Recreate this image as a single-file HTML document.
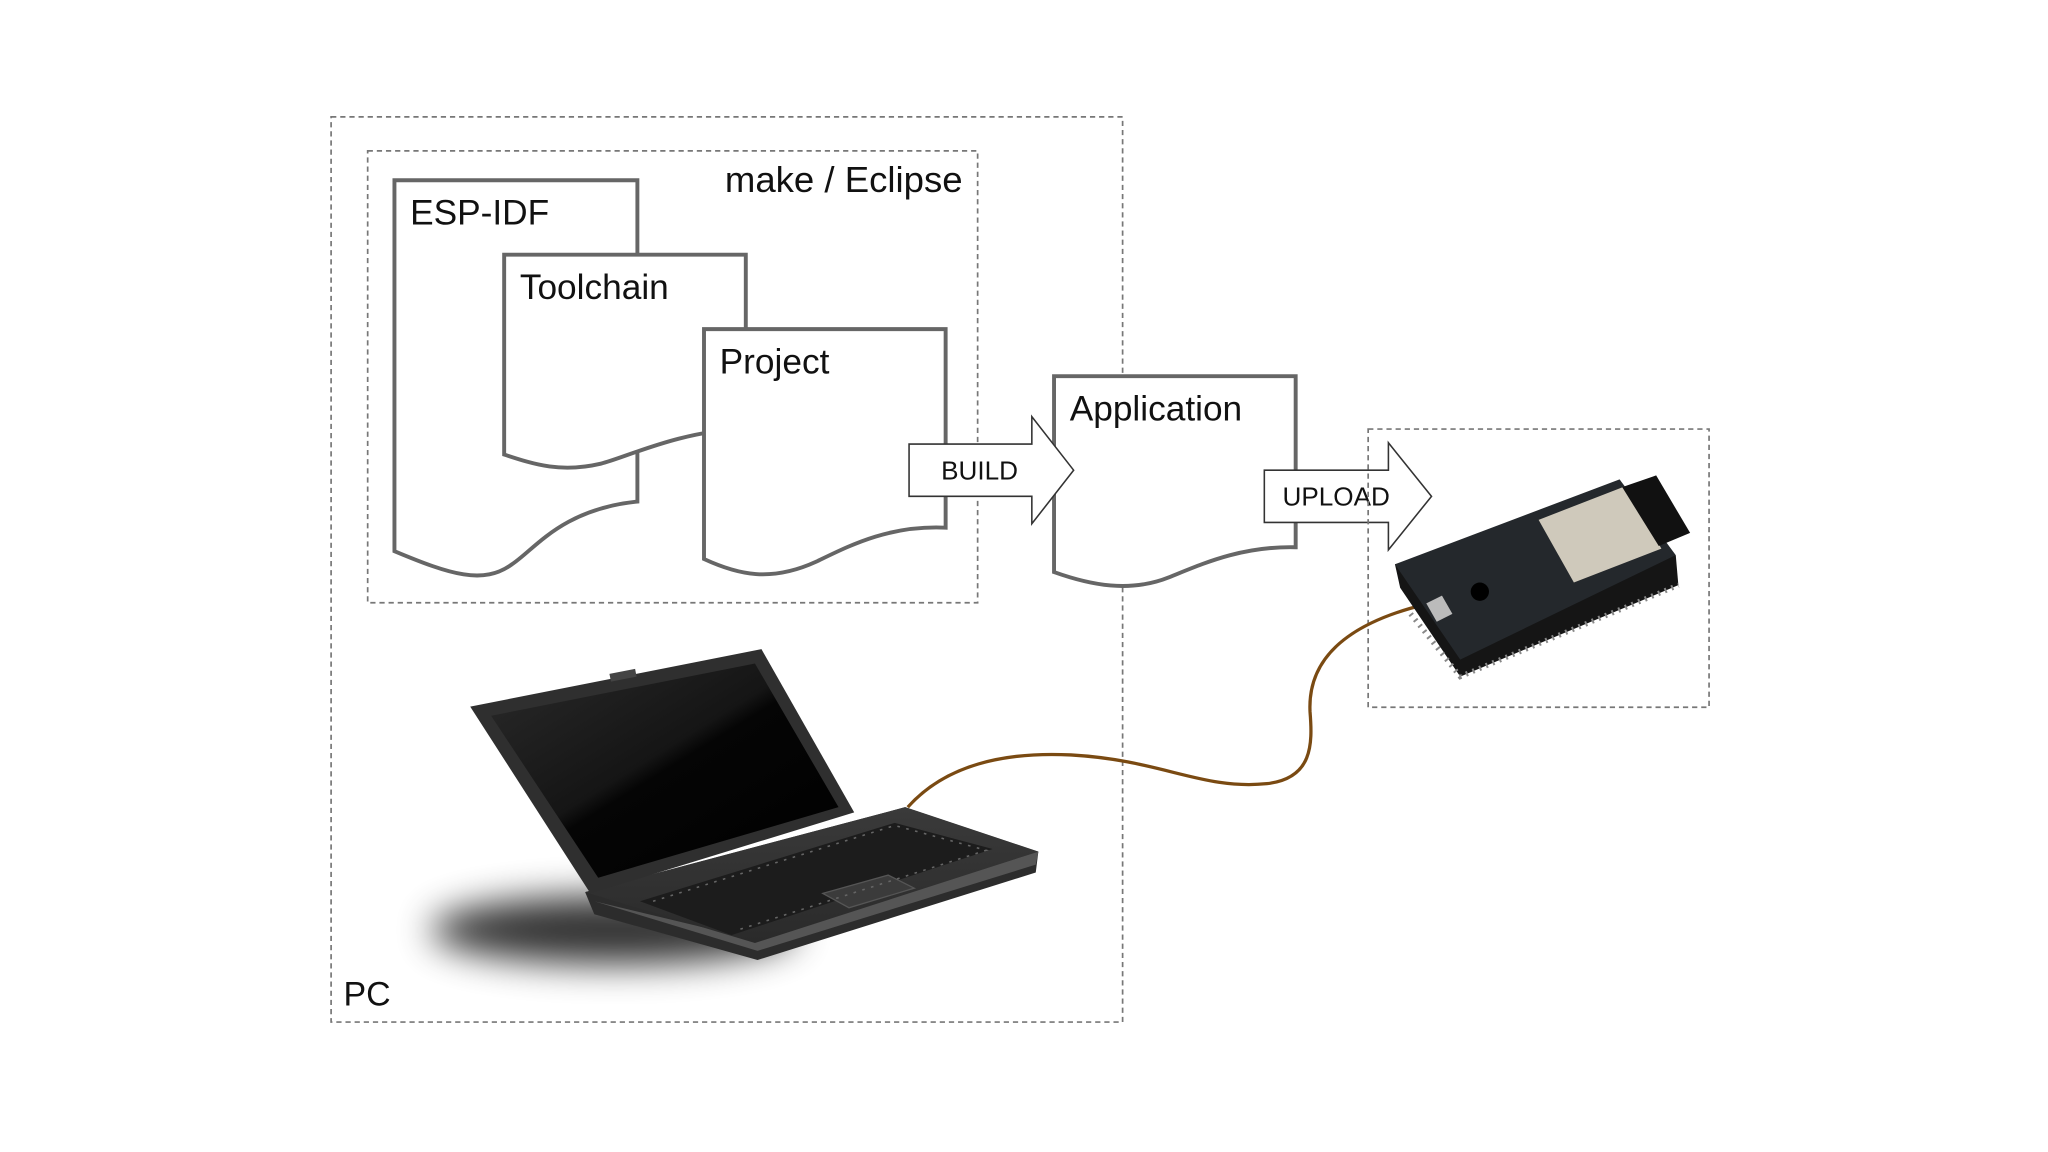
<!DOCTYPE html>
<html><head><meta charset="utf-8"><style>
html,body{margin:0;padding:0;background:#fff;}
svg{display:block;}
text{font-family:"Liberation Sans",sans-serif;fill:#111;}
</style></head><body>
<svg width="2048" height="1152" viewBox="0 0 1568 882" xmlns="http://www.w3.org/2000/svg">
<defs>
<filter id="blur" x="-100%" y="-200%" width="300%" height="500%"><feGaussianBlur stdDeviation="14"/></filter>
<linearGradient id="scr" x1="0" y1="0" x2="1" y2="1"><stop offset="0" stop-color="#2a2a2a"/><stop offset="0.45" stop-color="#151515"/><stop offset="0.5" stop-color="#050505"/><stop offset="1" stop-color="#000"/></linearGradient>
<linearGradient id="base" x1="0" y1="0" x2="0" y2="1"><stop offset="0" stop-color="#3a3a3a"/><stop offset="1" stop-color="#2a2a2a"/></linearGradient>
</defs>
<rect width="1568" height="882" fill="#fff"/>
<rect x="253.5" y="89.5" width="606" height="693" fill="none" stroke="#777" stroke-width="1.3" stroke-dasharray="4,3"/>
<text x="263" y="770" font-size="26">PC</text>
<rect x="281.5" y="115.5" width="467" height="346" fill="none" stroke="#777" stroke-width="1.3" stroke-dasharray="4,3"/>
<text x="737" y="147" font-size="28" text-anchor="end">make / Eclipse</text>
<path d="M302,138 H488 V384 C430,390 410,420 392,432 C370,448 345,440 302,422 Z" fill="#fff" stroke="#666" stroke-width="3"/>
<text x="314" y="172" font-size="27">ESP-IDF</text>
<path d="M386,195 H571 V328 C520,330 480,350 460,355 C430,362 410,356 386,348 Z" fill="#fff" stroke="#666" stroke-width="3"/>
<text x="398" y="229" font-size="27">Toolchain</text>
<path d="M539,252 H724 V404 C680,402 650,418 625,430 C590,446 565,440 539,428 Z" fill="#fff" stroke="#666" stroke-width="3"/>
<text x="551" y="286" font-size="27">Project</text>
<path d="M807,288 H992 V419 C950,418 920,432 895,442 C865,454 835,448 807,438 Z" fill="#fff" stroke="#666" stroke-width="3"/>
<text x="819" y="322" font-size="27">Application</text>
<path d="M696,340 H790 V319 L822,360 L790,401 V380 H696 Z" fill="#fff" stroke="#333" stroke-width="1.2"/>
<text x="750" y="367" font-size="20" text-anchor="middle">BUILD</text>
<path d="M968,360 H1063 V339 L1096,380 L1063,421 V400 H968 Z" fill="#fff" stroke="#333" stroke-width="1.2"/>
<text x="1023" y="387" font-size="20" text-anchor="middle">UPLOAD</text>
<rect x="1047.5" y="328.5" width="261" height="213" fill="none" stroke="#777" stroke-width="1.3" stroke-dasharray="4,3"/>
<path d="M695,618 C720,590 760,575 820,578 C890,582 920,605 970,600 C1005,596 1005,570 1003,545 C1001,505 1030,478 1090,463" fill="none" stroke="#7a4a12" stroke-width="2.5"/>
<!-- board -->
<path d="M1068,432 L1072,450 L1118,518 L1285,448 L1283,425 Z" fill="#151515"/>
<path d="M1068,432 L1240,367 L1283,425 L1118,505 Z" fill="#24282c"/>
<path d="M1080,470 L1118,518 L1285,448" fill="none" stroke="#888" stroke-width="4" stroke-dasharray="1.5,4"/>
<path d="M1178,398 L1245,372 L1272,420 L1205,446 Z" fill="#cfc9bb"/>
<path d="M1242,373 L1268,364 L1294,408 L1270,418 Z" fill="#111"/>
<circle cx="1133" cy="453" r="7" fill="#000"/>
<path d="M1092,462 L1104,456 L1112,470 L1100,476 Z" fill="#bbb"/>
<!-- laptop shadow -->
<ellipse cx="470" cy="712" rx="140" ry="26" fill="#000" opacity="0.8" filter="url(#blur)"/>
<path d="M448,683 L693,618 L795,652 L793,668 L580,735 L455,700 Z" fill="#2c2c2c"/>
<path d="M455,690 L580,728 L793,662 L795,652 L580,720 Z" fill="#555"/>
<path d="M448,683 L693,618 L795,652 L578,722 Z" fill="url(#base)"/>
<path d="M490,690 L685,630 L760,650 L560,716 Z" fill="#1c1c1c"/>
<path d="M630,684 L680,670 L700,680 L650,695 Z" fill="#3b3b3b" stroke="#555" stroke-width="1"/>
<path d="M500,690 L685,632 L755,651 L565,712" fill="none" stroke="#666" stroke-width="1.2" stroke-dasharray="2,5"/>
<path d="M360,541 L583,497 L654,622 L452,684 Z" fill="#2f2f2f"/>
<path d="M376,548 L578,508 L642,618 L458,672 Z" fill="url(#scr)"/>
<rect x="467" y="514" width="20" height="6" fill="#444" transform="rotate(-11 477 517)"/>
</svg>
</body></html>
